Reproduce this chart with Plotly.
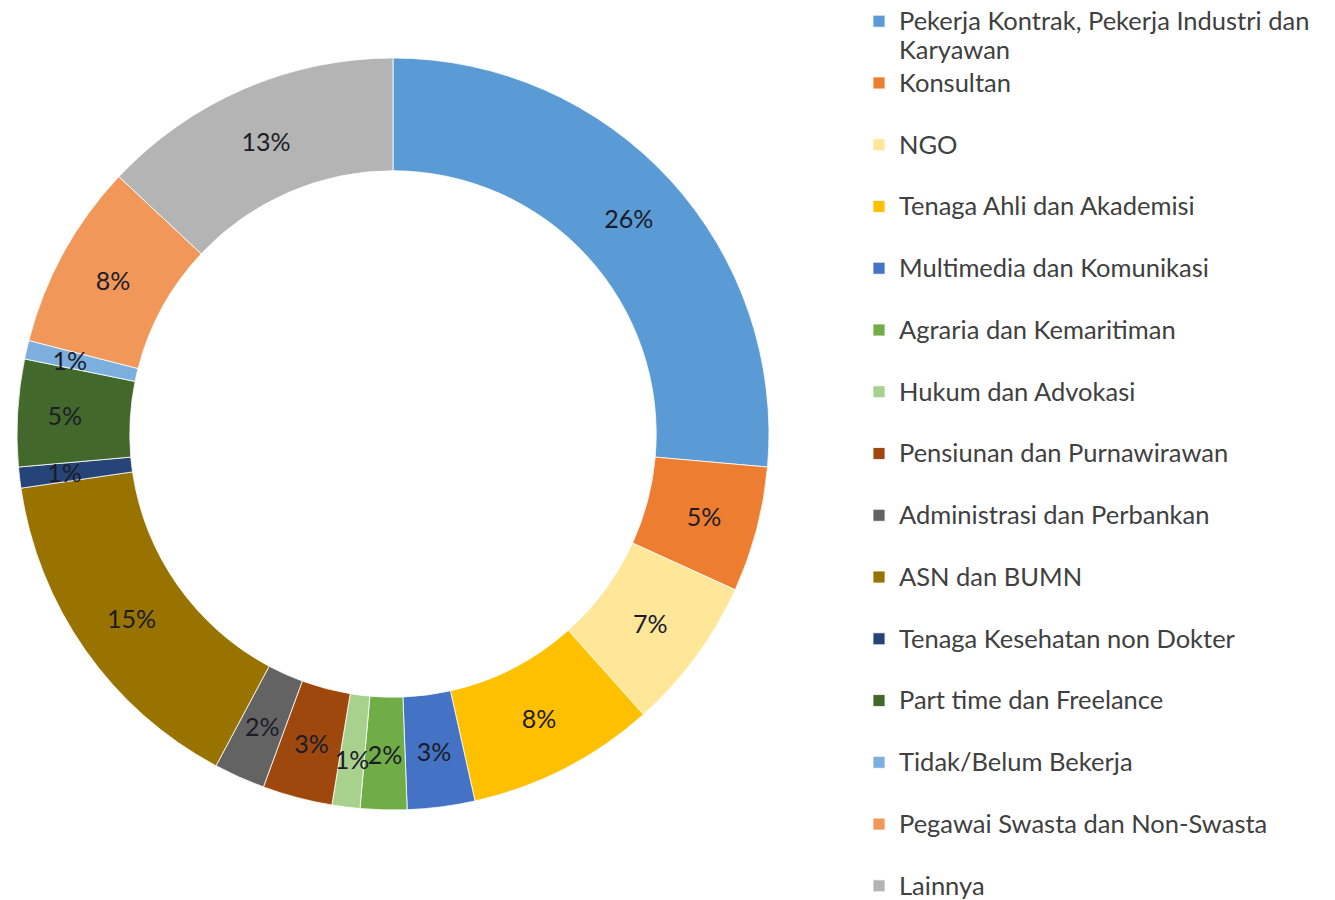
import textwrap
import plotly.graph_objects as go

categories = [
    "Pekerja Kontrak, Pekerja Industri dan Karyawan",
    "Konsultan",
    "NGO",
    "Tenaga Ahli dan Akademisi",
    "Multimedia dan Komunikasi",
    "Agraria dan Kemaritiman",
    "Hukum dan Advokasi",
    "Pensiunan dan Purnawirawan",
    "Administrasi dan Perbankan",
    "ASN dan BUMN",
    "Tenaga Kesehatan non Dokter",
    "Part time dan Freelance",
    "Tidak/Belum Bekerja",
    "Pegawai Swasta dan Non-Swasta",
    "Lainnya",
]
values = [26.4, 5.4, 6.6, 8.1, 2.9, 2.0, 1.2, 3.0, 2.2, 14.9, 0.9, 4.6, 0.8, 8.0, 13.0]
colors = [
    "#5B9BD5", "#ED7D31", "#FFE699", "#FFC000", "#4472C4", "#70AD47",
    "#A9D18E", "#9E480E", "#636363", "#997300", "#264478", "#43682B",
    "#7CAFDD", "#F1975A", "#B4B4B4",
]

FONT = "Lato, 'Open Sans', sans-serif"
LEG_TEXT_PX = 25.5
PCT = "%{percent:.0%}"
SMALL = 3.5  # slices at or below this share get their label from the text ring


def span(t):
    return f"<span style='font-size:{LEG_TEXT_PX}px'>{t}</span>"


# legend labels: wrap long names, give each entry two lines (Excel-like spacing)
legend_labels = []
for i, c in enumerate(categories):
    lines = [span(t) for t in textwrap.wrap(c, 37)]
    if len(lines) == 1 and i < len(categories) - 1:
        lines.append(" ")
    legend_labels.append("<br>".join(lines))

W, H = 1335, 900
OFF = 8  # page body margin
cx, cy, R = 393 - OFF, 434 - OFF, 376
R_TXT = 340  # text-only ring for thin slices, keeps their labels mid-ring


def dom(r):
    return dict(x=[(cx - r) / W, (cx + r) / W], y=[1 - (cy + r) / H, 1 - (cy - r) / H])


common = dict(sort=False, direction="clockwise", rotation=0,
              textposition="inside", insidetextorientation="horizontal",
              textfont=dict(family=FONT, size=25, color="#1c1c28"))

fig = go.Figure()
fig.add_trace(
    go.Pie(
        labels=legend_labels,
        values=values,
        hole=0.70,
        marker=dict(colors=colors, line=dict(color="white", width=0.8)),
        texttemplate=[PCT if v > SMALL else "" for v in values],
        domain=dom(R),
        hoverinfo="percent",
        **common,
    )
)
fig.add_trace(
    go.Pie(
        labels=legend_labels,
        values=values,
        hole=0.882,
        marker=dict(colors=["rgba(0,0,0,0)"] * len(values), line=dict(width=0)),
        texttemplate=[PCT if v <= SMALL else "" for v in values],
        domain=dom(R_TXT),
        showlegend=False,
        hoverinfo="skip",
        **common,
    )
)

fig.update_layout(
    width=W,
    height=H,
    margin=dict(l=0, r=0, t=0, b=0, autoexpand=False),
    paper_bgcolor="white",
    plot_bgcolor="white",
    uniformtext=dict(minsize=25, mode="show"),
    showlegend=True,
    legend=dict(
        x=(859 - OFF) / W,
        xanchor="left",
        y=1.0 + OFF / H,
        yanchor="top",
        valign="top",
        font=dict(family=FONT, size=22.6, color="#404040"),
        bgcolor="rgba(0,0,0,0)",
        borderwidth=0,
        maxheight=1200,
        traceorder="normal",
    ),
)

fig.write_html("out.html")
